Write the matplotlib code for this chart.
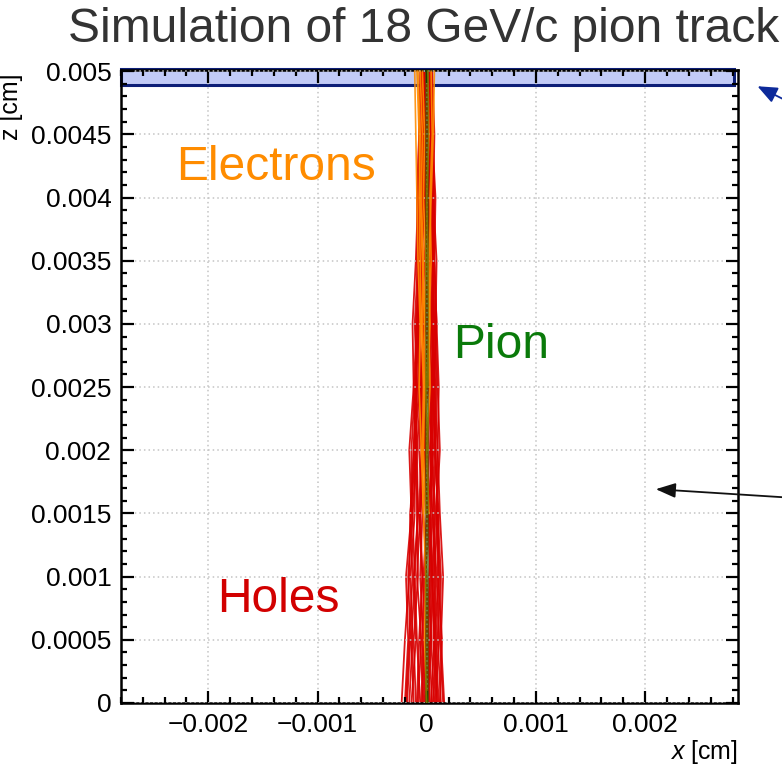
import matplotlib as mpl
mpl.use('Agg')
import matplotlib.pyplot as plt
import numpy as np
from matplotlib.patches import Rectangle
from matplotlib.ticker import MultipleLocator

plt.rcParams['font.family'] = ['Liberation Sans', 'DejaVu Sans']
plt.rcParams['mathtext.fontset'] = 'custom'
plt.rcParams['mathtext.it'] = 'Liberation Sans:italic'
plt.rcParams['mathtext.rm'] = 'Liberation Sans'

# depth levels (cm) where the drift tracks are sampled
z_levels = [0.0, 0.0005, 0.001, 0.0015, 0.002, 0.0025, 0.003, 0.0035, 0.004, 0.0045, 0.005]

# hole tracks, x in units of 1e-4 cm, bottom -> top
holes = [
    [-2.3, -2.0, -1.6, -1.5, -1.2, -1.0, -0.9, -0.7, -0.6, -0.5, -0.4],
    [-1.8, -1.5, -1.7, -1.3, -1.4, -1.1, -0.8, -0.9, -0.6, -0.4, -0.3],
    [1.5, 1.2, 1.3, 1.0, 0.8, 0.9, 0.7, 0.5, 0.6, 0.4, 0.3],
    [1.2, 1.4, 1.0, 1.1, 0.7, 0.8, 0.5, 0.6, 0.4, 0.3, 0.2],
    [-1.0, -1.2, -0.8, -0.9, -1.1, -0.7, -0.8, -0.5, -0.6, -0.3, -0.2],
    [0.6, 0.9, 0.7, 1.0, 0.8, 0.6, 0.9, 0.7, 0.5, 0.6, 0.4],
    [-0.5, -0.3, -0.6, -0.4, -0.7, -0.5, -0.3, -0.6, -0.4, -0.2, -0.1],
    [0.3, 0.1, 0.4, 0.2, 0.5, 0.3, 0.1, 0.3, 0.2, 0.4, 0.1],
    [-0.2, 0.1, -0.1, 0.2, 0.0, -0.2, 0.1, -0.1, 0.2, 0.0, 0.1],
    [0.9, 0.6, 0.8, 0.5, 0.3, 0.5, 0.2, 0.4, 0.1, 0.2, 0.0],
    [-1.4, -1.0, -1.2, -0.8, -0.9, -0.5, -0.7, -0.4, -0.5, -0.2, -0.1],
    [1.0, 0.7, 1.1, 0.9, 1.2, 1.0, 0.8, 0.9, 0.6, 0.7, 0.5],
    [-0.8, -0.5, -0.9, -0.6, -0.4, -0.6, -0.3, -0.5, -0.2, -0.3, -0.2],
    [0.1, 0.4, 0.2, 0.5, 0.3, 0.6, 0.4, 0.2, 0.4, 0.1, 0.2],
    [-1.9, -1.6, -1.3, -1.5, -1.0, -1.2, -0.9, -0.7, -0.8, -0.5, -0.4],
    [0.5, 0.2, 0.0, -0.3, -0.1, -0.4, -0.2, 0.0, -0.2, -0.1, 0.0],
    [-0.1, -0.4, -0.2, 0.0, -0.3, 0.1, -0.1, 0.2, 0.0, 0.1, -0.1],
    [1.6, 1.3, 1.5, 1.2, 1.0, 1.1, 0.9, 0.7, 0.8, 0.5, 0.4],
    [-0.6, -0.9, -1.1, -0.8, -1.0, -0.9, -1.1, -0.8, -0.9, -0.7, -0.6],
    [0.7, 0.4, 0.6, 0.8, 0.5, 0.7, 0.5, 0.3, 0.5, 0.3, 0.2],
    [-2.0, -1.7, -1.9, -1.4, -1.6, -1.2, -1.3, -1.0, -0.8, -0.7, -0.5],
    [1.3, 1.0, 1.2, 0.9, 1.0, 0.7, 0.8, 0.6, 0.7, 0.5, 0.3],
    [-1.2, -1.4, -1.1, -1.3, -0.9, -1.0, -0.7, -0.8, -0.6, -0.5, -0.3],
    [0.4, 0.7, 0.5, 0.3, 0.6, 0.4, 0.6, 0.5, 0.3, 0.2, 0.3],
    [-0.3, -0.6, -0.4, -0.7, -0.5, -0.8, -0.6, -0.4, -0.5, -0.3, -0.2],
    [0.8, 1.1, 0.9, 0.6, 0.8, 0.5, 0.7, 0.4, 0.3, 0.4, 0.2],
    [-1.6, -1.3, -1.5, -1.1, -1.2, -0.9, -1.0, -0.6, -0.7, -0.4, -0.5],
    [0.2, -0.1, 0.3, 0.1, -0.2, 0.0, 0.3, 0.1, -0.1, 0.1, 0.0],
    [-0.9, -0.7, -0.4, -0.6, -0.3, -0.5, -0.2, -0.4, -0.3, -0.1, -0.2],
    [1.1, 0.8, 0.5, 0.7, 0.4, 0.2, 0.4, 0.3, 0.1, 0.3, 0.1],
    [-0.4, -0.1, -0.3, 0.0, -0.2, -0.1, -0.4, -0.2, 0.0, -0.2, -0.1],
    [0.0, 0.3, 0.5, 0.3, 0.1, 0.3, 0.0, -0.1, 0.1, -0.1, 0.0],
]

# electron tracks, x in units of 1e-4 cm, from creation point up to the top
electrons = [
    [0.0, -0.2, -0.1, -0.3, -0.4, -0.3, -0.5, -0.6, -0.7, -0.6, -0.8],
    [0.2, 0.0, 0.3, 0.2, 0.4, 0.3, 0.5, 0.4],
    [-0.1, -0.3, -0.2, -0.4, -0.3, -0.5, -0.4, -0.6],
    [0.1, 0.3, 0.2, 0.4, 0.6, 0.7],
    [-0.3, -0.5, -0.7, -0.6, -0.8, -0.9, -1.0, -1.1],
    [0.0, 0.2, 0.1, 0.0, 0.2, 0.1],
    [-0.2, -0.4, -0.6, -0.7, -0.9],
    [0.1, -0.1, -0.2, -0.1, -0.3, -0.2, -0.4],
]

pion_x = [0.0, 0.0]
pion_z = [0.0, 0.005]

fig = plt.figure(figsize=(7.82, 7.72), dpi=100)
ax = fig.add_axes([0.1547, 0.0894, 0.789, 0.82])

# metal/readout layer on top
ax.add_patch(Rectangle((-0.0028, 0.00489), 0.00561, 0.00013,
                       facecolor='#c2cbf7', edgecolor='#0d1f78', lw=2.2,
                       zorder=1, clip_on=False))

for tr in holes:
    ax.plot(np.array(tr) * 1e-4, z_levels[:len(tr)],
            color='#d80000', lw=1.3, alpha=0.9, zorder=2)
for tr in electrons:
    ax.plot(np.array(tr) * 1e-4, z_levels[-len(tr):],
            color='#ff8c00', lw=1.2, alpha=0.9, zorder=3)
ax.plot(pion_x, pion_z, color='#2a6a00', lw=2.6, alpha=0.6, zorder=4)

ax.set_xlim(-0.0028, 0.00285)
ax.set_ylim(0, 0.00501)

ax.xaxis.set_minor_locator(MultipleLocator(0.0002))
ax.yaxis.set_minor_locator(MultipleLocator(0.0001))
ax.set_xticks([-0.002, -0.001, 0, 0.001, 0.002])
ax.set_xticklabels(['\u22120.002', '\u22120.001', '0', '0.001', '0.002'])
yt = [0, 0.0005, 0.001, 0.0015, 0.002, 0.0025, 0.003, 0.0035, 0.004, 0.0045, 0.005]
ax.set_yticks(yt)
ax.set_yticklabels(['0', '0.0005', '0.001', '0.0015', '0.002', '0.0025',
                    '0.003', '0.0035', '0.004', '0.0045', '0.005'])

ax.tick_params(which='both', direction='in', top=True, right=True,
               labelsize=19, width=1.6, colors='black')
ax.tick_params(which='major', length=9, pad=7)
ax.tick_params(which='minor', length=4.5)
for s in ax.spines.values():
    s.set_linewidth(1.8)
ax.grid(True, which='major', ls=(0, (1, 2)), color='#c4c4c4', lw=1.1)
ax.set_axisbelow(False)

ax.set_xlabel('$x$ [cm]', fontsize=18, loc='right', labelpad=1)

fig.text(0.014, 0.905, 'z [cm]', rotation=90, fontsize=18, ha='center', va='top')

fig.text(0.087, 0.962, 'Simulation of 18 GeV/c pion track', fontsize=34.5,
         color='#333333', ha='left', va='center')

ax.text(-0.00138, 0.00414, 'Electrons', color='#ff8c00', fontsize=34.5,
        ha='center', va='baseline')
ax.text(0.00068, 0.00273, 'Pion', color='#0a7a0a', fontsize=34.5,
        ha='center', va='baseline')
ax.text(-0.00136, 0.00072, 'Holes', color='#d20000', fontsize=34.5,
        ha='center', va='baseline')

ax.annotate('', xy=(755, 687), xycoords='figure pixels',
            xytext=(795, 667), textcoords='figure pixels',
            arrowprops=dict(arrowstyle='-|>,head_length=1.2,head_width=0.5',
                            color='#0d2a9a', lw=1.3))
ax.annotate('', xy=(653, 283), xycoords='figure pixels',
            xytext=(795, 274), textcoords='figure pixels',
            arrowprops=dict(arrowstyle='-|>,head_length=1.2,head_width=0.45',
                            color='#111111', lw=1.3))

fig.savefig('out.png', dpi=100)
